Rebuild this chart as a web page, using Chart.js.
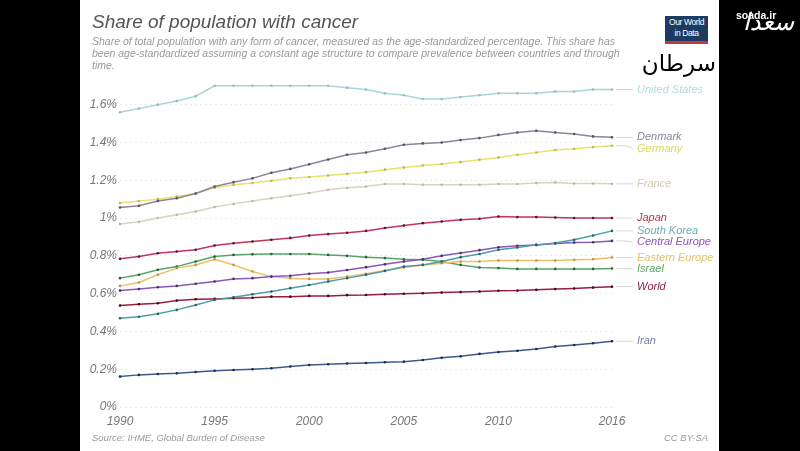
<!DOCTYPE html>
<html>
<head>
<meta charset="utf-8">
<script src="https://cdn.jsdelivr.net/npm/chart.js@4.4.1/dist/chart.umd.min.js"></script>
<style>
  body { margin: 0; background: #000; }
  #wrap { position: relative; width: 800px; height: 451px; overflow: hidden; }
  #myChart { position: absolute; left: 0; top: 0; }
  .txt { position: absolute; font-family: 'Liberation Sans', Arial, sans-serif; white-space: nowrap; }
  #title { left: 92px; top: 11px; font-size: 19px; font-style: italic; color: #555; }
  #sub { left: 92px; top: 35px; font-size: 10.5px; font-style: italic; color: #999; line-height: 12px; }
  #logo { left: 665px; top: 16px; width: 43px; height: 24px; background: #1d3b62; border-bottom: 3px solid #c43a3a;
          color: #fff; font-size: 8.5px; line-height: 11px; text-align: center; padding-top: 1px; letter-spacing: -0.4px; }
  #fa { right: 84px; top: 50px; font-family: 'DejaVu Sans', sans-serif; font-size: 23px; color: #000; direction: rtl; }
  #site { left: 736px; top: 9px; font-size: 10.5px; font-weight: bold; color: #fff; }
  #cal { right: 6px; top: 8px; font-family: 'DejaVu Sans', sans-serif; font-size: 24px; color: #fff; font-style: italic; direction: rtl; }
  #src { left: 92px; top: 432px; font-size: 9.5px; font-style: italic; color: #9a9a9a; }
  #cc { left: 664px; top: 432px; font-size: 9.5px; font-style: italic; color: #9a9a9a; }
</style>
</head>
<body>
<div id="wrap">
  <canvas id="myChart" width="800" height="451"></canvas>
  <div class="txt" id="title">Share of population with cancer</div>
  <div class="txt" id="sub">Share of total population with any form of cancer, measured as the age-standardized percentage. This share has<br>been age-standardized assuming a constant age structure to compare prevalence between countries and through<br>time.</div>
  <div class="txt" id="logo">Our World<br>in Data</div>
  <div class="txt" id="fa">سرطان</div>
  <div class="txt" id="cal">سعدا</div>
  <div class="txt" id="site">soada.ir</div>
  <div class="txt" id="src">Source: IHME, Global Burden of Disease</div>
  <div class="txt" id="cc">CC BY-SA</div>
</div>
<script>
const years = [1990, 1991, 1992, 1993, 1994, 1995, 1996, 1997, 1998, 1999, 2000, 2001, 2002, 2003,
  2004, 2005, 2006, 2007, 2008, 2009, 2010, 2011, 2012, 2013, 2014, 2015, 2016];
const xTickYears = [1990, 1995, 2000, 2005, 2010, 2016];
const yTicks = [0, 0.2, 0.4, 0.6, 0.8, 1, 1.2, 1.4, 1.6];

// share in %
const unitedStates = [1.56, 1.58, 1.60, 1.62, 1.645, 1.70, 1.70, 1.70, 1.70, 1.70, 1.70, 1.70, 1.69, 1.68,
  1.66, 1.65, 1.63, 1.63, 1.64, 1.65, 1.66, 1.66, 1.66, 1.67, 1.67, 1.68, 1.68];
const denmark = [1.056, 1.065, 1.09, 1.105, 1.13, 1.167, 1.19, 1.21, 1.24, 1.26, 1.285, 1.31, 1.335, 1.347,
  1.367, 1.388, 1.395, 1.40, 1.413, 1.423, 1.44, 1.453, 1.462, 1.453, 1.445, 1.432, 1.427];
const germany = [1.08, 1.09, 1.10, 1.114, 1.13, 1.16, 1.176, 1.185, 1.197, 1.21, 1.217, 1.225, 1.234, 1.243,
  1.256, 1.268, 1.278, 1.286, 1.296, 1.309, 1.321, 1.335, 1.347, 1.36, 1.367, 1.376, 1.383];
const france = [0.968, 0.98, 1.0, 1.017, 1.035, 1.058, 1.075, 1.09, 1.105, 1.118, 1.132, 1.15, 1.16, 1.167,
  1.18, 1.18, 1.176, 1.176, 1.176, 1.176, 1.18, 1.18, 1.185, 1.188, 1.183, 1.183, 1.181];
const japan = [0.784, 0.796, 0.814, 0.823, 0.832, 0.855, 0.867, 0.876, 0.885, 0.895, 0.908, 0.915, 0.922, 0.932,
  0.947, 0.96, 0.973, 0.982, 0.991, 0.996, 1.008, 1.005, 1.005, 1.003, 1.0, 1.0, 1.0];
const southKorea = [0.47, 0.478, 0.493, 0.514, 0.54, 0.567, 0.581, 0.597, 0.611, 0.629, 0.646, 0.664, 0.682, 0.70,
  0.72, 0.743, 0.752, 0.77, 0.793, 0.81, 0.832, 0.844, 0.858, 0.868, 0.885, 0.908, 0.932];
const centralEurope = [0.616, 0.624, 0.634, 0.641, 0.652, 0.664, 0.678, 0.682, 0.69, 0.694, 0.705, 0.712, 0.725, 0.74,
  0.755, 0.77, 0.782, 0.80, 0.815, 0.83, 0.845, 0.853, 0.858, 0.865, 0.87, 0.872, 0.879];
const easternEurope = [0.641, 0.659, 0.70, 0.735, 0.752, 0.782, 0.752, 0.717, 0.69, 0.682, 0.678, 0.677, 0.69, 0.705,
  0.722, 0.738, 0.752, 0.761, 0.77, 0.77, 0.775, 0.775, 0.775, 0.775, 0.779, 0.782, 0.791];
const israel = [0.682, 0.70, 0.726, 0.743, 0.77, 0.796, 0.805, 0.808, 0.81, 0.81, 0.81, 0.805, 0.80, 0.793,
  0.788, 0.782, 0.779, 0.77, 0.752, 0.738, 0.735, 0.731, 0.731, 0.731, 0.731, 0.731, 0.733];
const world = [0.537, 0.544, 0.549, 0.563, 0.57, 0.572, 0.576, 0.578, 0.584, 0.584, 0.588, 0.588, 0.592, 0.593,
  0.597, 0.599, 0.602, 0.606, 0.608, 0.611, 0.615, 0.616, 0.62, 0.624, 0.627, 0.632, 0.637];
const iran = [0.161, 0.17, 0.175, 0.178, 0.185, 0.192, 0.196, 0.20, 0.205, 0.214, 0.222, 0.226, 0.23, 0.233,
  0.237, 0.24, 0.249, 0.261, 0.268, 0.281, 0.291, 0.298, 0.307, 0.32, 0.328, 0.337, 0.348];

const seriesNames = ['United States', 'Denmark', 'Germany', 'France', 'Japan', 'South Korea',
  'Central Europe', 'Eastern Europe', 'Israel', 'World', 'Iran'];
const seriesData = [unitedStates, denmark, germany, france, japan, southKorea,
  centralEurope, easternEurope, israel, world, iran];
const lineColors = ['#a9d7d8', '#8e8499', '#e6e36e', '#d9d3c0', '#c2365a', '#4e9ea6',
  '#8a58b8', '#eec063', '#58a66c', '#9a1f3e', '#3c5a8e'];
const labelColors = ['#b3dcdf', '#8d8597', '#dcd85e', '#d3ccb4', '#c0304f', '#6eaab2',
  '#8d55bd', '#e5c066', '#5aa868', '#8f1e38', '#7282aa'];
const pointColors = ['#9fbcbd', '#5a5060', '#b9b860', '#bdb7a6', '#5a1426', '#2f5e63',
  '#4a2c66', '#b8964a', '#2e5e3a', '#3a0c18', '#1e2c48'];

// black side bars + white page
const pageBg = {
  id: 'pageBg',
  beforeDraw(chart) {
    const c = chart.ctx;
    c.save();
    c.fillStyle = '#000';
    c.fillRect(0, 0, chart.width, chart.height);
    c.fillStyle = '#fff';
    c.fillRect(80, 0, 639, chart.height);
    c.restore();
  }
};

// country names at the line ends
const endLabels = {
  id: 'endLabels',
  afterDatasetsDraw(chart) {
    const c = chart.ctx;
    const items = chart.data.datasets.map((ds, i) => {
      const pts = chart.getDatasetMeta(i).data;
      const p = pts[pts.length - 1];
      return { name: ds.label, x: p.x, y: p.y, ly: p.y, color: labelColors[i] };
    }).sort((a, b) => a.y - b.y);
    for (let i = 1; i < items.length; i++) {
      if (items[i].ly - items[i - 1].ly < 11.5) items[i].ly = items[i - 1].ly + 11.5;
    }
    c.save();
    c.font = 'italic 11px "Liberation Sans", Arial, sans-serif';
    c.textBaseline = 'middle';
    items.forEach(it => {
      c.strokeStyle = '#d6d6d6';
      c.lineWidth = 1;
      c.beginPath();
      c.moveTo(it.x + 4, it.y);
      c.lineTo(it.x + 14, it.y);
      c.lineTo(it.x + 21, it.ly);
      c.stroke();
      c.fillStyle = it.color;
      c.fillText(it.name, it.x + 25, it.ly);
    });
    c.restore();
  }
};

var ctx = document.getElementById('myChart');

var myChart = new Chart(ctx, {
  type: 'line',
  data: {
    labels: years,
    datasets: seriesNames.map((name, i) => ({
      label: name,
      data: seriesData[i],
      borderColor: lineColors[i],
      backgroundColor: lineColors[i],
      borderWidth: 1.5,
      pointRadius: 1.3,
      pointBorderWidth: 0,
      pointBackgroundColor: pointColors[i],
      tension: 0
    }))
  },
  options: {
    responsive: false,
    animation: false,
    devicePixelRatio: 1,
    layout: { padding: { left: 80, right: 188, top: 82, bottom: 20 } },
    plugins: {
      legend: { display: false },
      tooltip: { enabled: false }
    },
    scales: {
      x: {
        type: 'category',
        offset: false,
        grid: { display: false, drawTicks: false },
        border: { display: false },
        ticks: {
          autoSkip: false,
          maxRotation: 0,
          padding: 7,
          color: '#777',
          font: { family: '"Liberation Sans", Arial, sans-serif', style: 'italic', size: 12 },
          callback: (v, i) => xTickYears.includes(years[i]) ? String(years[i]) : ''
        },
        afterFit: axis => { axis.height = 24; }
      },
      y: {
        min: 0,
        max: 1.72,
        afterBuildTicks: axis => { axis.ticks = yTicks.map(v => ({ value: v })); },
        grid: { color: '#ececec', drawTicks: false },
        border: { display: false, dash: [2, 3] },
        ticks: {
          padding: 3,
          color: '#777',
          font: { family: '"Liberation Sans", Arial, sans-serif', style: 'italic', size: 12 },
          callback: v => (Math.round(v * 10) / 10) + '%'
        },
        afterFit: axis => { axis.width = 40; }
      }
    }
  },
  plugins: [pageBg, endLabels]
});
</script>
</body>
</html>
